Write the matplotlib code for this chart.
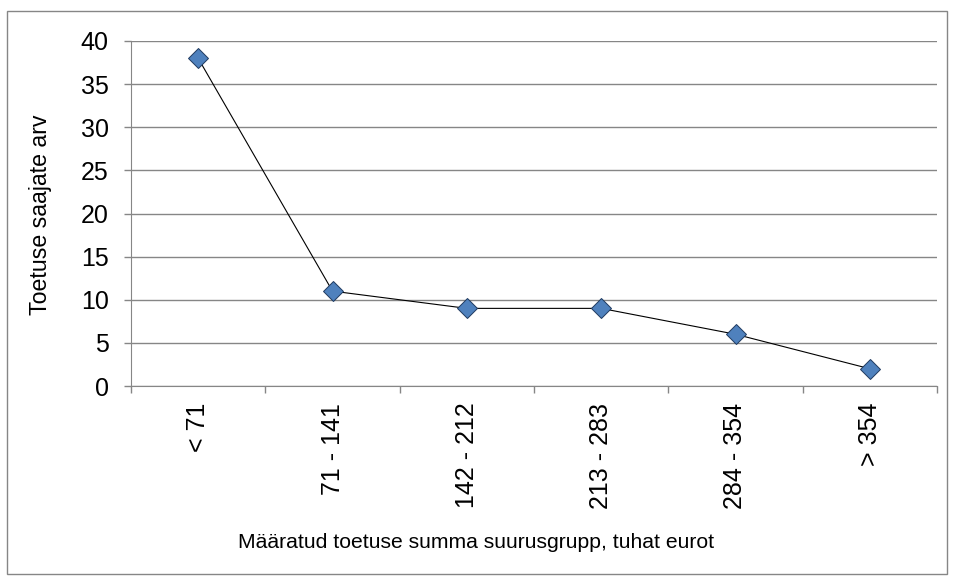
import matplotlib.pyplot as plt
from matplotlib.patches import Rectangle
from matplotlib.ticker import FixedLocator

plt.rcParams['font.family'] = ['Liberation Sans', 'DejaVu Sans']

categories = ['< 71', '71 - 141', '142 - 212', '213 - 283', '284 - 354', '> 354']
values = [38, 11, 9, 9, 6, 2]

W, H = 955, 580
fig = plt.figure(figsize=(W / 100, H / 100), dpi=100)
ax = fig.add_axes([131 / W, 1 - 386 / H, (937 - 131) / W, (386 - 41) / H])

grey = '#868686'
x = list(range(len(categories)))
ax.plot(x, values, color='black', lw=0.8, marker='D', markersize=10,
        markerfacecolor='#4F81BD', markeredgecolor='#1F3A5F', markeredgewidth=0.7,
        zorder=3, clip_on=False)

ax.set_xlim(-0.5, len(categories) - 0.5)
ax.set_ylim(0, 40)
ax.set_yticks(range(0, 41, 5))
ax.yaxis.grid(True, color=grey, lw=1)
ax.set_axisbelow(True)

ax.set_xticks(x)
ax.set_xticklabels(categories, rotation=90, fontsize=18, va='top')
ax.tick_params(axis='x', which='major', length=0, pad=12)
ax.xaxis.set_minor_locator(FixedLocator([i - 0.5 for i in range(len(categories) + 1)]))
ax.tick_params(axis='x', which='minor', length=5, color=grey, width=1)
ax.tick_params(axis='y', length=5, color=grey, width=1, labelsize=18, pad=11)

for s in ['top', 'right']:
    ax.spines[s].set_visible(False)
for s in ['left', 'bottom']:
    ax.spines[s].set_color(grey)

fig.text(40 / W, 1 - 215 / H, 'Toetuse saajate arv', fontsize=16.7,
         rotation=90, ha='center', va='center')
fig.text(476 / W, 1 - 543 / H, 'Määratud toetuse summa suurusgrupp, tuhat eurot',
         fontsize=15.2, ha='center', va='center')

fig.patches.append(Rectangle((7 / W, 1 - 574 / H), 940 / W, 563 / H, transform=fig.transFigure,
                             fill=False, edgecolor=grey, lw=1))

fig.savefig('out.png', dpi=100)
